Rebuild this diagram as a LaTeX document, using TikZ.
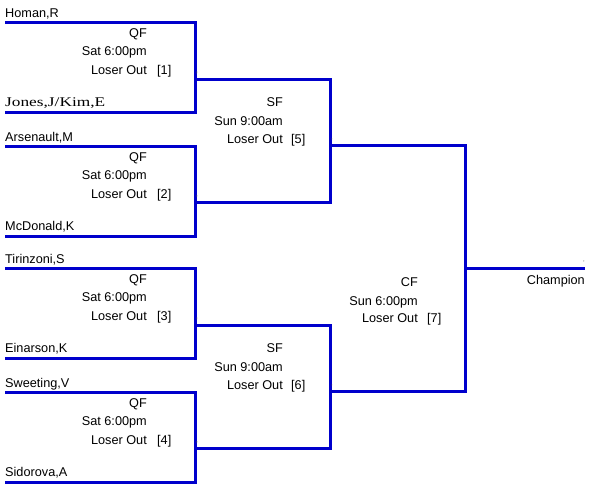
\documentclass[tikz,border=0pt]{standalone}
\usepackage{fontspec}
\setmainfont{Liberation Sans}
\newfontfamily\namserif{Liberation Serif}
\usepackage{graphicx}
\definecolor{bracketblue}{RGB}{0,0,204}
\begin{document}
\begin{tikzpicture}[x=1pt,y=-1pt,
  bline/.style={draw=bracketblue,line width=3pt},
  lbl/.style={inner sep=0pt,font=\fontsize{12.7}{14}\selectfont},
  tick/.style={inner sep=0pt,text=black!70,font=\fontsize{6}{6}\selectfont},
]
\useasboundingbox (0,0) rectangle (595,490);

% Quarter-final brackets
\foreach \i/\t/\n in {1/22/1,2/146/2,3/268/3,4/392/4} {
  \coordinate (q\i tl) at (5,\t);
  \coordinate (q\i tr) at (195,\t);
  \coordinate (q\i br) at (195,\t+90);
  \coordinate (q\i bl) at (5,\t+90);
  \draw[bline] (q\i tl) -- (q\i tr) -- (q\i br) -- (q\i bl);
  \node[lbl,anchor=base east] (q\i r) at (147,\t+15.7) {QF};
  \node[lbl,anchor=base east] (q\i d) at (147,\t+33.3) {Sat 6:00pm};
  \node[lbl,anchor=base east] (q\i l) at (147,\t+52) {Loser Out};
  \node[lbl,anchor=base west] (q\i n) at (157,\t+52) {[\n]};
  \node[tick] (q\i c) at (197,\t+51) {,};
}

% Player names
\node[lbl,anchor=base west] (p1) at (5,17.3) {Homan,R};
\node[inner sep=0pt,anchor=base west] (p2) at (5,106.3) {\resizebox{100pt}{8.8pt}{\namserif Jones,J/Kim,E}};
\node[lbl,anchor=base west] (p3) at (5,141.3) {Arsenault,M};
\node[lbl,anchor=base west] (p4) at (5,230.3) {McDonald,K};
\node[lbl,anchor=base west] (p5) at (5,263.3) {Tirinzoni,S};
\node[lbl,anchor=base west] (p6) at (5,352.7) {Einarson,K};
\node[lbl,anchor=base west] (p7) at (5,387.3) {Sweeting,V};
\node[lbl,anchor=base west] (p8) at (5,476.5) {Sidorova,A};

% Semi-final brackets
\foreach \i/\s/\n in {1/79/5,2/325/6} {
  \coordinate (s\i tl) at (195,\s);
  \coordinate (s\i tr) at (330,\s);
  \coordinate (s\i br) at (330,\s+123);
  \coordinate (s\i bl) at (195,\s+123);
  \draw[bline] (s\i tl) -- (s\i tr) -- (s\i br) -- (s\i bl);
  \node[lbl,anchor=base east] (s\i r) at (283,\s+27.7) {SF};
  \node[lbl,anchor=base east] (s\i d) at (283,\s+46) {Sun 9:00am};
  \node[lbl,anchor=base east] (s\i l) at (283,\s+64.3) {Loser Out};
  \node[lbl,anchor=base west] (s\i n) at (291,\s+64.3) {[\n]};
  \node[tick] (s\i ct) at (197,\s-5) {,};
  \node[tick] (s\i cb) at (197,\s+118) {,};
  \node[tick] (s\i co) at (332,\s+61) {,};
}

% Final bracket
\coordinate (ftl) at (330,145);
\coordinate (ftr) at (465,145);
\coordinate (fbr) at (465,391);
\coordinate (fbl) at (330,391);
\draw[bline] (ftl) -- (ftr) -- (fbr) -- (fbl);
\node[lbl,anchor=base east] (fr) at (418,286) {CF};
\node[lbl,anchor=base east] (fd) at (418,305) {Sun 6:00pm};
\node[lbl,anchor=base east] (fl) at (418,322.7) {Loser Out};
\node[lbl,anchor=base west] (fn) at (427,322.7) {[7]};

% Champion line
\coordinate (cl) at (465,268);
\coordinate (cr) at (585,268);
\draw[bline] (cl) -- (cr);
\node[tick] (cc) at (584,262) {,};
\node[lbl,anchor=base east] (champ) at (585,284) {Champion};
\end{tikzpicture}
\end{document}
